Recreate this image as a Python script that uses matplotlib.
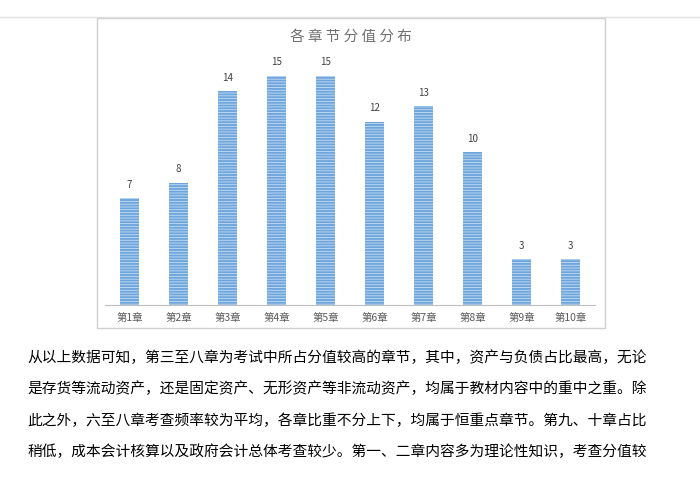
import matplotlib
matplotlib.use("Agg")
import matplotlib.pyplot as plt
from matplotlib.patches import Rectangle

plt.rcParams['font.family'] = ['Noto Sans CJK SC']
plt.rcParams['hatch.linewidth'] = 0.6

categories = ["第1章", "第2章", "第3章", "第4章", "第5章", "第6章", "第7章", "第8章", "第9章", "第10章"]
values = [7, 8, 14, 15, 15, 12, 13, 10, 3, 3]
title = "各 章 节 分 值 分 布"
paragraph = [
    "从以上数据可知，第三至八章为考试中所占分值较高的章节，其中，资产与负债占比最高，无论",
    "是存货等流动资产，还是固定资产、无形资产等非流动资产，均属于教材内容中的重中之重。除",
    "此之外，六至八章考查频率较为平均，各章比重不分上下，均属于恒重点章节。第九、十章占比",
    "稍低，成本会计核算以及政府会计总体考查较少。第一、二章内容多为理论性知识，考查分值较",
]

fig = plt.figure(figsize=(7, 5), dpi=100)
fig.patches.append(Rectangle((97/700, 1-328/500), 508/700, 310/500, transform=fig.transFigure,
                             fill=False, edgecolor='#d0d0d0', linewidth=1))
fig.add_artist(plt.Line2D([0, 1], [1-17/500, 1-17/500], color='#e0e0e0', lw=1))

ax = fig.add_axes([105/700, 1-305/500, 490/700, 275/500])
x = range(len(categories))
ax.bar(x, values, width=0.38, color='#6ea6dc', edgecolor='#c6ddf3', hatch='------', linewidth=0)
for xi, v in zip(x, values):
    ax.text(xi, v + 0.55, str(v), ha='center', va='bottom', fontsize=7, color='#404040')
ax.set_xticks(list(x))
ax.set_xticklabels(categories, fontsize=7.5, color='#595959')
ax.set_xlim(-0.5, len(categories) - 0.5)
ax.set_ylim(0, 18)
ax.set_yticks([])
for s in ['left', 'right', 'top']:
    ax.spines[s].set_visible(False)
ax.spines['bottom'].set_color('#bfbfbf')
ax.tick_params(axis='x', length=0, pad=6)

fig.text(351/700, 1-37/500, title, ha='center', va='center', fontsize=10.5, color='#707070')

ys = [358, 389, 421, 452]
for y, line in zip(ys, paragraph):
    fig.text(27/700, 1-y/500, line, ha='left', va='center', fontsize=10.6, color='black')

fig.savefig("out.png", dpi=100)
